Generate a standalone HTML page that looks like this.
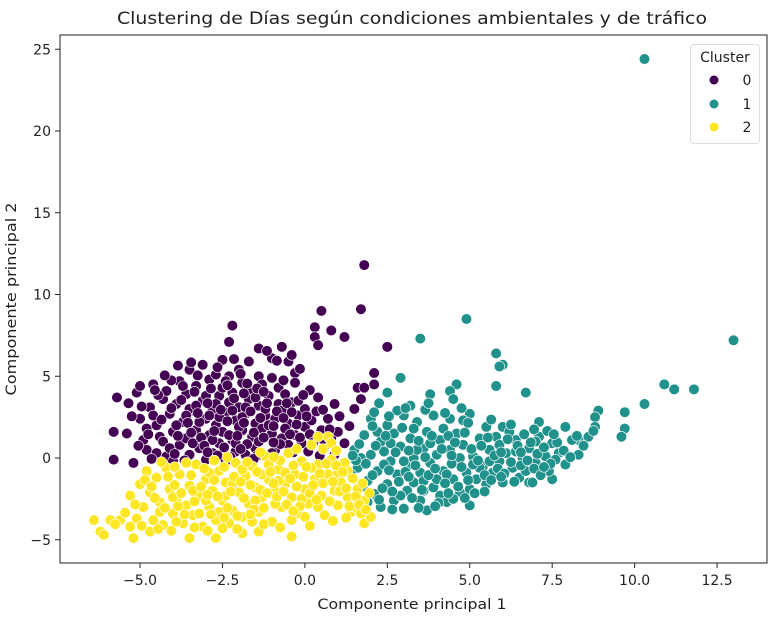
<!DOCTYPE html>
<html><head><meta charset="utf-8"><style>
body{margin:0;background:#fff;}
svg{display:block;font-family:"DejaVu Sans","Liberation Sans",sans-serif;}
</style></head><body>
<svg id="chart" width="775" height="622">
<rect x="0" y="0" width="775" height="622" fill="#fff"/>
<text x="412" y="24" font-size="17" text-anchor="middle" textLength="590" lengthAdjust="spacingAndGlyphs" fill="#222">Clustering de Días según condiciones ambientales y de tráfico</text>
<g id="points"></g>
<g id="axes"></g>
<rect x="60" y="35" width="707" height="528" fill="none" stroke="#222" stroke-width="1"/>
<text x="412" y="609" font-size="14.5" text-anchor="middle" textLength="189" lengthAdjust="spacingAndGlyphs" fill="#222">Componente principal 1</text>
<text transform="translate(16,299) rotate(-90)" font-size="14.5" text-anchor="middle" textLength="193" lengthAdjust="spacingAndGlyphs" fill="#222">Componente principal 2</text>
<g>
<rect x="690.5" y="44.5" width="69" height="99" rx="3" fill="#fff" fill-opacity="0.8" stroke="#ddd"/>
<text x="725" y="62" font-size="14" text-anchor="middle" fill="#222">Cluster</text>
<circle cx="714" cy="80" r="4.5" fill="#440154"/>
<text x="747" y="85" font-size="14" text-anchor="middle" fill="#222">0</text>
<circle cx="714" cy="104" r="4.5" fill="#21918c"/>
<text x="747" y="109" font-size="14" text-anchor="middle" fill="#222">1</text>
<circle cx="714" cy="127" r="4.5" fill="#fde725"/>
<text x="747" y="132" font-size="14" text-anchor="middle" fill="#222">2</text>
</g>
</svg>
<script>
const xTicks = [-5.0, -2.5, 0.0, 2.5, 5.0, 7.5, 10.0, 12.5];
const xTickLabels = ["\u22125.0","\u22122.5","0.0","2.5","5.0","7.5","10.0","12.5"];
const yTicks = [-5, 0, 5, 10, 15, 20, 25];
const yTickLabels = ["\u22125","0","5","10","15","20","25"];
const clusterColors = ["#440154","#21918c","#fde725"];

const cluster0 = [[1.8,11.8],[1.7,9.1],[0.5,9.0],[-2.2,8.1],[0.3,8.0],[0.8,7.8],[0.3,7.4],[1.2,7.4],[0.4,6.9],[-2.3,7.1],[2.5,6.8],[-1.4,6.7],[-0.7,6.8],[2.1,5.2],[2.1,4.5],[1.6,4.3],[1.8,4.3],[1.7,3.6],[0.9,3.3],[1.5,3.0],[-5.7,3.7],[-5.8,1.6],[-5.8,-0.1],[-5.2,-0.3],[-5.4,1.5],[-5.1,4.0],[-5.0,4.4],[-0.3,5.2],[-0.5,5.9],[-0.4,6.3],[-1.0,6.1],
[-5.0,2.4],[-4.9,1.1],[-4.8,0.5],[-4.7,3.1],[-4.6,4.5],[-4.5,2.0],[-4.5,0.3],[-4.4,1.3],[-4.3,3.6],[-4.2,4.1],[-4.2,0.1],[-4.1,2.7],[-4.0,1.6],[-4.0,-0.2],[-3.9,3.3],[-3.8,4.7],[-3.8,0.8],[-3.7,2.2],[-3.6,3.9],[-3.6,1.2],[-3.5,5.4],[-3.5,0.2],[-3.4,2.9],[-3.3,4.4],[-3.3,1.7],[-3.2,0.6],[-3.1,3.5],[-3.1,5.7],[-3.0,2.4],[-3.0,-0.1],[-2.9,4.8],[-2.9,1.4],[-2.8,3.0],[-2.8,0.3],[-2.7,5.1],[-2.7,2.0],[-2.6,3.8],[-2.6,0.9],[-2.5,6.0],[-2.5,4.3],[-2.5,1.6],[-2.4,2.8],[-2.4,-0.2],[-2.3,3.4],[-2.3,5.0],[-2.2,1.1],[-2.2,4.0],[-2.1,2.3],[-2.1,0.4],[-2.0,3.1],[-2.0,5.4],[-1.9,1.7],[-1.9,4.6],[-1.8,2.7],[-1.8,0.2],[-1.7,3.6],[-1.7,5.9],[-1.6,1.3],[-1.6,4.2],[-1.5,2.1],[-1.5,0.6],[-1.4,3.2],[-1.4,5.0],[-1.3,1.8],[-1.3,4.5],[-1.2,2.6],[-1.2,0.1],[-1.1,3.8],[-1.0,1.5],[-1.0,4.9],[-0.9,2.4],[-0.9,0.5],[-0.8,3.3],[-0.8,4.3],[-0.7,1.2],[-0.7,2.9],[-0.6,3.9],[-0.5,0.8],[-0.5,2.1],[-0.4,3.4],[-0.3,1.4],[-0.3,4.6],[-0.2,2.6],[-0.1,0.9],[0.0,3.0],[0.0,1.9],[0.1,0.4],[0.2,2.3],[0.3,1.1],[0.4,3.7],[0.5,1.7],[0.6,0.7],[0.7,2.4],[0.8,1.2],[1.0,1.6],[1.2,0.9],[0.9,0.2],[-3.9,2.0],[-4.3,1.0],[-3.2,2.2],[-2.6,2.5],[-2.0,1.9],[-1.4,1.0],[-2.8,1.1],[-3.5,3.0],[-1.1,2.0],[-0.6,1.8],[-2.3,1.4],[-1.8,3.1],[-3.0,3.8],[-2.4,4.7],[-3.7,4.4],[-4.6,2.6],[-4.8,1.8],[-0.2,3.5],[-1.5,3.7],[-2.9,2.6],[-3.4,0.9],[-2.1,0.9],[-1.0,0.3],[-4.1,0.6],[-3.6,2.6],[-2.7,3.3],[-1.9,2.5],[-1.2,3.0],[-0.4,2.8],[-3.3,3.2],[-2.2,2.9],
[-4.75,1.45],[-4.35,2.35],[-4.05,3.05],[-3.85,1.35],[-3.55,2.15],[-3.25,2.75],[-3.15,1.25],[-2.95,3.35],[-2.75,1.65],[-2.55,2.95],[-2.45,0.65],[-2.35,2.25],[-2.15,3.65],[-2.05,1.35],[-1.85,2.15],[-1.75,0.85],[-1.65,2.85],[-1.55,1.55],[-1.45,4.25],[-1.35,2.45],[-1.25,1.25],[-1.15,3.35],[-0.95,1.95],[-0.85,2.85],[-0.75,0.85],[-0.65,2.45],[-0.55,3.35],[-0.45,1.45],[-0.25,2.05],[-0.15,1.25],[0.05,2.55],[0.15,1.45],[0.25,0.95],[0.35,2.85],[0.55,1.15],[-3.95,0.25],[-3.45,1.55],[-3.05,0.75],[-2.65,0.15],[-2.25,0.05],[-1.95,0.55],[-1.45,0.15],[-0.95,0.95],[-0.35,0.35],[-4.45,3.85],[-3.75,3.55],[-3.35,4.05],[-2.85,4.25],[-2.35,4.45],[-1.85,3.95],[-1.25,4.05],[-0.65,4.75],[-2.65,5.55],[-1.95,5.15],[-3.25,5.05],[-4.05,4.75],[-4.55,4.15],[-4.95,3.15],[-5.25,2.55],[-5.05,0.75],[-4.65,-0.05],[-3.65,-0.15],[-2.95,0.35],[-1.55,-0.05],[0.45,0.15],[0.75,1.75],[1.05,2.55],[1.35,1.95],[-3.85,5.65],[-3.45,5.85],[-2.15,6.05],[-1.15,6.55],[-0.85,5.95],[-0.15,5.45],[0.15,4.15],[-5.35,3.35],[-4.25,5.05],[-1.75,4.55],[-0.05,3.85],[0.55,2.95]];

const cluster1 = [[10.3,24.4],[13.0,7.2],[4.9,8.5],[3.5,7.3],[5.8,6.4],[6.0,5.7],[5.9,5.6],[2.9,4.9],[4.6,4.5],[5.8,4.4],[4.4,4.1],[6.7,4.0],[2.5,4.0],[3.8,3.9],[4.5,3.6],[10.9,4.5],[11.2,4.2],[11.8,4.2],[10.3,3.3],[9.7,2.8],[8.9,2.9],[8.8,2.5],[9.7,1.8],[9.6,1.3],[8.8,1.9],[8.3,1.1],[7.9,1.9],[7.5,-1.3],[7.1,2.2],[6.8,-1.5],[6.0,1.9],
[1.5,0.5],[1.6,-0.6],[1.8,1.4],[1.9,-1.4],[2.0,0.2],[2.0,2.4],[2.1,-2.2],[2.2,-0.8],[2.3,1.0],[2.3,-3.0],[2.4,0.4],[2.5,-1.6],[2.5,2.0],[2.6,-0.2],[2.7,1.5],[2.7,-2.6],[2.8,-1.0],[2.9,0.7],[3.0,-3.1],[3.0,2.6],[3.1,-0.5],[3.1,-2.0],[3.2,1.2],[3.3,0.0],[3.3,-1.5],[3.4,2.2],[3.5,-2.6],[3.5,-0.9],[3.6,0.6],[3.7,1.6],[3.7,-3.2],[3.8,-0.3],[3.9,-1.8],[3.9,2.6],[4.0,0.2],[4.1,-2.3],[4.1,1.1],[4.2,-0.8],[4.3,-2.7],[4.4,0.5],[4.4,2.4],[4.5,-1.3],[4.6,-0.2],[4.6,1.5],[4.7,-2.1],[4.8,0.8],[4.9,-0.9],[5.0,-1.9],[5.0,2.7],[5.1,0.1],[5.2,-1.3],[5.3,1.2],[5.4,-0.5],[5.5,-1.6],[5.6,0.5],[5.7,-0.9],[5.8,1.3],[5.9,-0.2],[6.0,-1.5],[6.1,0.3],[6.3,-0.6],[6.4,1.1],[6.5,-1.2],[6.6,0.0],[6.8,0.6],[7.0,-0.3],[7.1,1.3],[7.3,0.1],[7.4,-0.8],[7.5,0.9],[7.7,0.3],[7.9,-0.4],[8.1,1.1],[8.3,0.2],[8.6,1.3],[7.0,1.0],[6.2,1.6],[5.5,1.9],[4.8,2.3],[3.2,3.2],[2.9,-2.3],[4.5,-2.5],[1.7,0.0],[2.2,1.6],[3.6,-1.4],[4.3,-1.0],[5.3,-0.6],[6.7,-0.8],[2.6,0.9],[3.4,0.5],[4.7,0.0],[5.9,0.8],[2.4,-0.4],[3.0,-0.2],[3.8,0.9],[5.1,-0.4],[6.4,0.4],[7.6,-0.1],[1.4,-1.0],[1.9,-2.7],[2.8,2.9],[3.6,-2.0],[4.0,-1.3],[5.6,-0.2],[4.2,1.8],[3.3,1.8],[2.1,2.8],[6.9,-1.5],[5.0,-2.9],
[1.85,-0.35],[2.05,-1.05],[2.15,0.75],[2.35,-1.85],[2.45,1.35],[2.55,-0.75],[2.65,-2.05],[2.75,0.35],[2.85,-1.45],[2.95,1.85],[3.05,-0.85],[3.15,0.45],[3.25,-2.45],[3.35,-0.45],[3.45,1.05],[3.55,-1.95],[3.65,0.05],[3.75,-1.05],[3.85,1.35],[3.95,-0.65],[4.05,-2.75],[4.15,0.55],[4.25,-1.55],[4.35,1.35],[4.45,-0.35],[4.55,0.95],[4.65,-1.75],[4.75,-0.55],[4.85,1.55],[4.95,-1.35],[5.05,0.55],[5.15,-2.15],[5.25,-0.15],[5.35,0.75],[5.45,-1.05],[5.55,1.25],[5.65,-1.35],[5.75,0.15],[5.85,-0.65],[5.95,0.35],[6.05,-0.95],[6.15,1.15],[6.25,-0.25],[6.35,-1.45],[6.45,0.75],[6.55,-0.45],[6.65,1.45],[6.75,-0.15],[6.85,0.95],[6.95,-0.65],[7.05,0.25],[7.15,-1.05],[7.25,0.65],[7.35,1.65],[7.45,-0.35],[7.65,0.95],[7.85,0.45],[8.05,0.05],[8.25,1.35],[8.45,0.75],[8.75,1.65],[1.65,0.85],[1.55,-0.15],[2.25,-2.55],[2.65,-3.15],[3.45,-3.05],[3.95,-2.95],[4.35,-2.15],[4.85,-2.45],[5.45,-2.05],[2.05,1.95],[2.55,2.55],[3.05,3.05],[3.65,2.95],[4.25,2.75],[4.95,2.15],[5.65,2.35],[6.25,2.05],[6.95,1.75],[7.55,1.45],[2.25,3.35],[3.75,3.35],[4.75,3.05],[1.45,0.15],[1.75,-1.75],[3.15,-1.15],[4.45,0.15],[5.95,-1.15],[6.55,0.35],[7.25,-0.55]];

const cluster2 = [[-6.4,-3.8],[-6.2,-4.5],[-6.1,-4.7],[-5.9,-3.8],[-5.6,-3.8],[-5.3,-4.2],[-5.2,-4.9],[-5.1,-3.7],[-4.7,-4.5],[-3.5,-4.9],[-2.7,-4.9],[-1.9,-4.6],[-1.4,-4.5],[-0.4,-4.8],[-5.3,-2.3],[-5.0,-1.6],[-4.8,-0.8],[0.7,1.3],[0.8,0.9],[0.4,1.3],[1.3,-0.8],[1.8,-4.0],[2.0,-3.6],[1.4,-3.3],
[-4.9,-3.0],[-4.7,-2.1],[-4.6,-3.8],[-4.5,-1.2],[-4.4,-2.7],[-4.3,-4.1],[-4.2,-0.6],[-4.1,-1.9],[-4.0,-3.4],[-3.9,-2.5],[-3.8,-1.0],[-3.7,-4.0],[-3.6,-2.9],[-3.5,-1.7],[-3.4,-3.5],[-3.3,-0.4],[-3.2,-2.3],[-3.1,-4.2],[-3.0,-1.3],[-2.9,-3.0],[-2.8,-2.0],[-2.7,-3.8],[-2.6,-0.8],[-2.5,-2.6],[-2.4,-1.5],[-2.3,-4.0],[-2.2,-3.2],[-2.1,-0.3],[-2.0,-2.1],[-1.9,-3.6],[-1.8,-1.1],[-1.7,-2.8],[-1.6,-0.5],[-1.5,-1.8],[-1.4,-3.3],[-1.3,-2.4],[-1.2,0.1],[-1.1,-1.3],[-1.0,-3.9],[-0.9,-2.0],[-0.8,-0.7],[-0.7,-3.0],[-0.6,-1.6],[-0.5,0.3],[-0.4,-2.4],[-0.3,-1.0],[-0.2,-3.4],[-0.1,-0.2],[0.0,-1.9],[0.1,-2.8],[0.2,0.8],[0.3,-1.3],[0.4,-0.4],[0.5,-2.3],[0.6,-3.5],[0.7,-1.0],[0.8,-0.1],[0.9,-2.0],[1.0,-2.9],[1.1,-1.5],[1.2,-0.3],[1.3,-2.4],[1.5,-3.0],[1.6,-1.9],[1.8,-2.6],[1.7,-3.4],[-3.9,-3.9],[-3.0,-2.6],[-2.2,-1.6],[-1.5,-2.6],[-0.8,-1.4],[-0.1,-2.5],[0.4,-3.0],[-2.6,-3.3],[-3.4,-2.0],[-4.0,-2.4],[-1.1,-0.4],[-1.9,-0.7],[-2.9,-0.9],[-3.6,-0.3],[-0.4,-3.8],[-1.6,-3.9],[-2.5,-4.3],[-0.6,-0.9],[0.2,-0.6],[-1.3,-1.0],[-2.4,-2.3],[-3.2,-3.4],[-0.9,-2.8],[0.0,-3.6],[1.0,-0.9],[-4.4,-3.3],
[-4.85,-1.35],[-4.55,-2.45],[-4.25,-3.05],[-4.15,-1.15],[-3.95,-1.65],[-3.75,-2.15],[-3.65,-3.45],[-3.45,-1.05],[-3.35,-2.65],[-3.15,-1.75],[-3.05,-0.65],[-2.95,-2.25],[-2.85,-3.45],[-2.75,-1.35],[-2.65,-2.35],[-2.45,-0.55],[-2.35,-3.05],[-2.25,-2.05],[-2.15,-1.15],[-2.05,-3.55],[-1.95,-1.45],[-1.85,-2.45],[-1.75,-0.25],[-1.65,-1.65],[-1.55,-3.15],[-1.45,-0.85],[-1.35,-1.95],[-1.25,-3.05],[-1.15,-2.15],[-1.05,-0.85],[-0.95,-1.55],[-0.85,-2.35],[-0.75,-0.15],[-0.65,-2.05],[-0.55,-2.85],[-0.45,-1.25],[-0.35,-0.45],[-0.25,-1.75],[-0.15,-2.95],[-0.05,-1.15],[0.05,-0.55],[0.15,-2.15],[0.25,-1.65],[0.35,-2.55],[0.45,-0.95],[0.55,-1.55],[0.65,-0.35],[0.75,-2.65],[0.85,-1.45],[0.95,-0.45],[1.05,-2.05],[1.15,-0.85],[1.25,-1.85],[1.35,-2.95],[1.45,-1.25],[1.55,-2.35],[1.65,-2.85],[1.75,-1.55],[1.85,-3.15],[1.95,-2.15],[-5.15,-2.85],[-5.45,-3.35],[-5.75,-4.05],[-4.95,-4.15],[-4.45,-4.35],[-4.05,-4.45],[-3.35,-4.25],[-2.95,-4.45],[-2.05,-4.35],[-1.25,-4.05],[-0.75,-4.25],[0.15,-4.15],[0.85,-3.85],[1.25,-3.65],[-3.85,-2.95],[-2.45,-3.65],[-1.65,-3.45],[-0.35,-3.25],[-4.65,-1.75],[-4.35,-0.25],[-3.95,-0.55],[-2.75,-0.15],[-1.35,0.35],[-0.25,0.55],[0.55,0.55],[0.95,0.45],[-0.95,0.05],[-2.35,0.05]];

const NS = "http://www.w3.org/2000/svg";
const X0 = 304.9, XPX = 82.43/2.5;
const Y0 = 458.0, YPX = 81.75/5;
function sx(v){ return X0 + v*XPX; }
function sy(v){ return Y0 - v*YPX; }

const axes = document.getElementById('axes');
xTicks.forEach(function(t,i){
  const px = sx(t);
  const ln = document.createElementNS(NS,'line');
  ln.setAttribute('x1',px); ln.setAttribute('x2',px); ln.setAttribute('y1',563); ln.setAttribute('y2',568);
  ln.setAttribute('stroke','#222');
  
  
  axes.appendChild(ln);
  const tx = document.createElementNS(NS,'text');
  tx.setAttribute('x',px); tx.setAttribute('y',585); tx.setAttribute('font-size','14');
  tx.setAttribute('text-anchor','middle'); tx.setAttribute('fill','#222');
  tx.textContent = xTickLabels[i];
  
  
  axes.appendChild(tx);
});
yTicks.forEach(function(t,i){
  const py = sy(t);
  const ln = document.createElementNS(NS,'line');
  ln.setAttribute('x1',55); ln.setAttribute('x2',60); ln.setAttribute('y1',py); ln.setAttribute('y2',py);
  ln.setAttribute('stroke','#222');
  
  
  axes.appendChild(ln);
  const tx = document.createElementNS(NS,'text');
  tx.setAttribute('x',51); tx.setAttribute('y',py+5); tx.setAttribute('font-size','14');
  tx.setAttribute('text-anchor','end'); tx.setAttribute('fill','#222');
  tx.textContent = yTickLabels[i];
  
  
  axes.appendChild(tx);
});

const layer = document.getElementById('points');
[cluster0, cluster1, cluster2].forEach(function(pts, ci){
  pts.forEach(function(p){
    const c = document.createElementNS(NS,'circle');
    c.setAttribute('cx', sx(p[0]));
    c.setAttribute('cy', sy(p[1]));
    c.setAttribute('r', 5.3);
    c.setAttribute('fill', clusterColors[ci]);
    c.setAttribute('stroke', '#fff');
    c.setAttribute('stroke-width', '0.6');
    
    
    layer.appendChild(c);
  });
});
</script>
</body></html>
